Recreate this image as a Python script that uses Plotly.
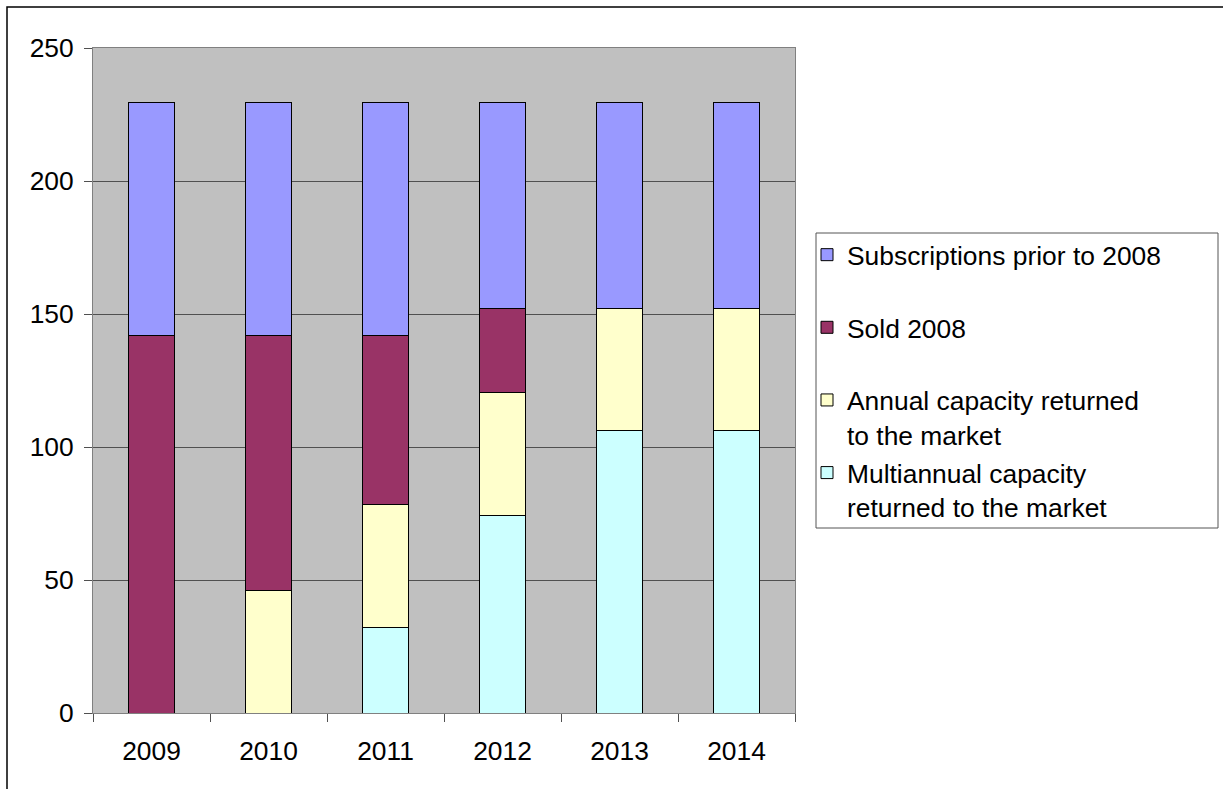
import plotly.graph_objects as go

years = ["2009", "2010", "2011", "2012", "2013", "2014"]
multiannual = [0, 0, 32.2, 74.4, 106.1, 106.1]
annual = [0, 45.9, 46.1, 46.0, 45.8, 45.8]
sold_2008 = [142.1, 96.2, 63.8, 31.5, 0, 0]
subscriptions = [87.4, 87.4, 87.4, 77.6, 77.6, 77.6]

series = [
    ("Multiannual capacity<br>returned to the market", multiannual, "#CCFFFF"),
    ("Annual capacity returned<br>to the market", annual, "#FFFFCC"),
    ("Sold 2008<br> ", sold_2008, "#993366"),
    ("Subscriptions prior to 2008<br> ", subscriptions, "#9999FF"),
]

FONT = "Arial, Liberation Sans, sans-serif"
FS = 26.4

fig = go.Figure()
n = len(series)
for i, (name, vals, color) in enumerate(series):
    fig.add_trace(go.Bar(
        x=years, y=vals, name=name, legendgroup=f"g{i}", legendrank=n - i,
        marker=dict(color=color, line=dict(color="#000000", width=1)),
    ))

W, H = 1223, 789
L, R, T, B = 93, 428, 48, 76
pw, ph = W - L - R, H - T - B

def px_x(p):
    return (p - L) / pw

def px_y(p):
    return (H - B - p) / ph

fig.update_layout(
    width=W, height=H,
    margin=dict(l=L, r=R, t=T, b=B, pad=0),
    barmode="stack", bargap=0.607,
    plot_bgcolor="#C0C0C0", paper_bgcolor="#FFFFFF",
    font=dict(family=FONT, size=FS, color="#000000"),
    showlegend=True,
    legend=dict(
        x=px_x(807), y=px_y(231), xanchor="left", yanchor="top",
        traceorder="grouped", tracegroupgap=1, valign="top",
        borderwidth=0, bgcolor="rgba(0,0,0,0)",
        font=dict(family=FONT, size=FS, color="#000000"),
        itemclick=False,
    ),
    xaxis=dict(
        type="category", showgrid=False, ticks="outside", ticklen=8,
        tickcolor="#505050", tickson="boundaries", ticklabelstandoff=14,
        showline=True, linecolor="#808080", linewidth=1, mirror=True,
        tickfont=dict(size=FS),
    ),
    yaxis=dict(
        range=[0, 250], dtick=50, ticks="outside", ticklen=8,
        tickcolor="#505050", showgrid=True, gridcolor="#505050", gridwidth=1,
        ticklabelstandoff=5,
        showline=True, linecolor="#808080", linewidth=1, mirror=True,
        zeroline=False, tickfont=dict(size=FS),
    ),
    shapes=[
        dict(
            type="rect", xref="paper", yref="paper",
            x0=px_x(7), y0=px_y(900), x1=px_x(1400), y1=px_y(7),
            line=dict(color="#000000", width=1.5), fillcolor="rgba(0,0,0,0)",
            layer="above",
        ),
        dict(
            type="rect", xref="paper", yref="paper",
            x0=px_x(816), y0=px_y(528), x1=px_x(1218), y1=px_y(233),
            line=dict(color="#555555", width=1), fillcolor="rgba(0,0,0,0)",
            layer="below",
        ),
    ],
)

fig.write_html("out.html")
